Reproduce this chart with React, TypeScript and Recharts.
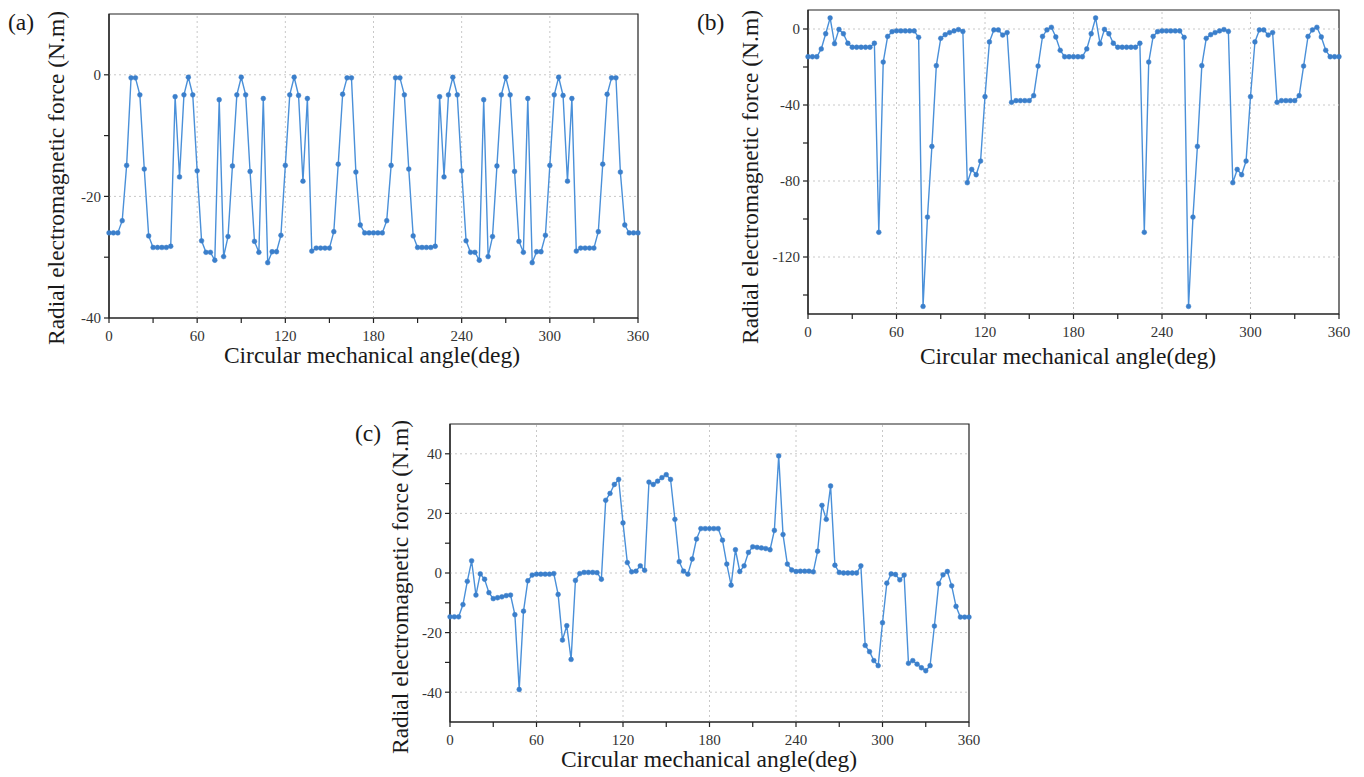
import React from "react";
import {
  LineChart,
  Line,
  XAxis,
  YAxis,
  ReferenceLine,
  ReferenceArea,
} from "recharts";

// sampling angles (deg), one point every 3 degrees
const angles = [
  0, 3, 6, 9, 12, 15, 18, 21, 24, 27, 30, 33, 36, 39, 42, 45, 48, 51, 54, 57,
  60, 63, 66, 69, 72, 75, 78, 81, 84, 87, 90, 93, 96, 99, 102, 105, 108, 111, 114, 117,
  120, 123, 126, 129, 132, 135, 138, 141, 144, 147, 150, 153, 156, 159, 162, 165, 168, 171, 174, 177,
  180, 183, 186, 189, 192, 195, 198, 201, 204, 207, 210, 213, 216, 219, 222, 225, 228, 231, 234, 237,
  240, 243, 246, 249, 252, 255, 258, 261, 264, 267, 270, 273, 276, 279, 282, 285, 288, 291, 294, 297,
  300, 303, 306, 309, 312, 315, 318, 321, 324, 327, 330, 333, 336, 339, 342, 345, 348, 351, 354, 357,
  360,
];

// (a) radial force, N.m
const forceA = [
  -26.0, -26.0, -26.0, -24.0, -14.9, -0.5, -0.5, -3.3, -15.5, -26.5,
  -28.4, -28.4, -28.4, -28.4, -28.2, -3.6, -16.8, -3.3, -0.4, -3.3,
  -15.8, -27.3, -29.2, -29.2, -30.5, -4.1, -29.9, -26.6, -15.0, -3.3,
  -0.4, -3.3, -15.9, -27.4, -29.2, -3.9, -30.9, -29.1, -29.1, -26.4,
  -14.9, -3.3, -0.4, -3.4, -17.5, -3.9, -29.0, -28.5, -28.5, -28.5,
  -28.5, -25.8, -14.7, -3.2, -0.5, -0.5, -16.0, -24.7, -26.0, -26.0,
  -26.0, -26.0, -26.0, -24.0, -14.9, -0.5, -0.5, -3.3, -15.5, -26.5,
  -28.4, -28.4, -28.4, -28.4, -28.2, -3.6, -16.8, -3.3, -0.4, -3.3,
  -15.8, -27.3, -29.2, -29.2, -30.5, -4.1, -29.9, -26.6, -15.0, -3.3,
  -0.4, -3.3, -15.9, -27.4, -29.2, -3.9, -30.9, -29.1, -29.1, -26.4,
  -14.9, -3.3, -0.4, -3.4, -17.5, -3.9, -29.0, -28.5, -28.5, -28.5,
  -28.5, -25.8, -14.7, -3.2, -0.5, -0.5, -16.0, -24.7, -26.0, -26.0,
  -26.0,
];

// (b)
const forceB = [
  -14.6, -14.6, -14.6, -10.5, -2.5, 5.8, -7.7, -0.2, -2.5, -7.5,
  -9.6, -9.6, -9.6, -9.6, -9.6, -7.5, -107, -17.4, -3.9, -1.4,
  -1.0, -1.0, -1.0, -1.0, -1.0, -4.4, -146, -99, -61.8, -19.3,
  -4.9, -3.0, -1.9, -1.0, -0.3, -1.3, -80.9, -73.9, -76.7, -69.5,
  -35.6, -6.8, -0.5, -0.5, -3.2, -1.9, -38.6, -37.7, -37.7, -37.7,
  -37.7, -35.1, -19.5, -3.9, -0.5, 0.9, -4.2, -11.2, -14.6, -14.6,
  -14.6, -14.6, -14.6, -10.5, -2.5, 5.8, -7.7, -0.2, -2.5, -7.5,
  -9.6, -9.6, -9.6, -9.6, -9.6, -7.5, -107, -17.4, -3.9, -1.4,
  -1.0, -1.0, -1.0, -1.0, -1.0, -4.4, -146, -99, -61.8, -19.3,
  -4.9, -3.0, -1.9, -1.0, -0.3, -1.3, -80.9, -73.9, -76.7, -69.5,
  -35.6, -6.8, -0.5, -0.5, -3.2, -1.9, -38.6, -37.7, -37.7, -37.7,
  -37.7, -35.1, -19.5, -3.9, -0.5, 0.9, -4.2, -11.2, -14.6, -14.6,
  -14.6,
];

// (c)
const forceC = [
  -14.7, -14.7, -14.7, -10.6, -2.8, 4.1, -7.4, -0.3, -2.1, -6.6,
  -8.6, -8.3, -8.0, -7.6, -7.4, -14.0, -39.1, -12.8, -2.6, -0.7,
  -0.4, -0.4, -0.4, -0.4, -0.2, -7.2, -22.5, -17.7, -29.0, -2.5,
  -0.2, 0.2, 0.2, 0.2, 0.1, -2.1, 24.4, 26.7, 29.7, 31.4,
  16.8, 3.5, 0.4, 0.6, 2.4, 0.9, 30.5, 29.7, 30.8, 32.0,
  33.0, 31.4, 18.0, 3.8, 0.6, -0.4, 4.7, 11.4, 14.9, 14.9,
  14.9, 14.9, 14.9, 11.0, 3.0, -4.1, 7.8, 0.5, 2.4, 6.9,
  8.8, 8.6, 8.4, 8.2, 7.8, 14.3, 39.3, 12.9, 3.0, 1.0,
  0.5, 0.6, 0.6, 0.6, 0.4, 7.3, 22.7, 18.0, 29.2, 2.6,
  0.2, 0.0, 0.0, 0.0, 0.0, 2.4, -24.3, -26.4, -29.4, -31.1,
  -16.7, -3.4, -0.3, -0.5, -2.3, -0.7, -30.3, -29.4, -30.6, -31.8,
  -32.8, -31.1, -17.8, -3.6, -0.6, 0.5, -4.3, -11.2, -14.8, -14.8,
  -14.8,
];

const xTicks = [0, 30, 60, 90, 120, 150, 180, 210, 240, 270, 300, 330, 360];
const xGrid = [60, 120, 180, 240, 300];

const yTicksA = [-40, -30, -20, -10, 0];
const yGridA = [-20, 0];
const yTicksB = [-140, -120, -100, -80, -60, -40, -20, 0];
const yGridB = [-120, -80, -40, 0];
const yTicksC = [-40, -30, -20, -10, 0, 10, 20, 30, 40];
const yGridC = [-40, -20, 0, 20, 40];

const FONT = "'Liberation Serif', 'Times New Roman', serif";
const tickStyle = { fill: "#333", fontSize: 15, fontFamily: FONT };
const axisStroke = { stroke: "#222", strokeWidth: 1.2 };

function Panel({ values, left, top, margin, yAxisWidth, xAxisHeight, domain, yTicks, yGrid, yStep }) {
  const data = angles.map((a, i) => ({ angle: a, force: values[i] }));
  return (
    <div style={{ position: "absolute", left, top }}>
      <LineChart width={660} height={345} data={data} margin={margin}>
        <ReferenceArea
          x1={0}
          x2={360}
          y1={domain[0]}
          y2={domain[1]}
          fill="none"
          stroke="#222"
          strokeWidth={1.2}
        />
        {xGrid.map((v) => (
          <ReferenceLine key={"x" + v} x={v} stroke="#c8c8c8" strokeDasharray="2 3" />
        ))}
        {yGrid.map((v) => (
          <ReferenceLine key={"y" + v} y={v} stroke="#c8c8c8" strokeDasharray="2 3" />
        ))}
        <XAxis
          type="number"
          dataKey="angle"
          domain={[0, 360]}
          ticks={xTicks}
          interval={0}
          height={xAxisHeight}
          tick={tickStyle}
          tickFormatter={(v) => (v % 60 === 0 ? String(v) : "")}
          tickSize={5}
          tickMargin={7}
          axisLine={axisStroke}
          tickLine={axisStroke}
        />
        <YAxis
          type="number"
          domain={domain}
          ticks={yTicks}
          interval={0}
          width={yAxisWidth}
          tick={tickStyle}
          tickFormatter={(v) => (v % yStep === 0 ? String(v) : "")}
          tickSize={5}
          tickMargin={3}
          axisLine={axisStroke}
          tickLine={axisStroke}
        />
        <Line
          type="linear"
          dataKey="force"
          stroke="#4a90d9"
          strokeWidth={1.4}
          dot={{ r: 2.4, fill: "#3b7fcb", stroke: "#3b7fcb", strokeWidth: 0.5 }}
          isAnimationActive={false}
        />
      </LineChart>
    </div>
  );
}

const labelBase = {
  position: "absolute",
  fontFamily: FONT,
  fontSize: 23.5,
  color: "#1a1a1a",
  whiteSpace: "nowrap",
  lineHeight: 1,
};

function YTitle({ x, y }) {
  return (
    <div style={{ ...labelBase, left: x, top: y, transform: "translate(-50%, -50%) rotate(-90deg)" }}>
      Radial electromagnetic force (N.m)
    </div>
  );
}

function XTitle({ x, y }) {
  return (
    <div style={{ ...labelBase, left: x, top: y, transform: "translate(-50%, -50%)" }}>
      Circular mechanical angle(deg)
    </div>
  );
}

function Tag({ x, y, text }) {
  return <div style={{ ...labelBase, left: x, top: y, transform: "translateY(-50%)" }}>{text}</div>;
}

export default function App() {
  return (
    <div style={{ position: "absolute", left: 0, top: 0, width: 1364, height: 777, background: "#fff" }}>
      <Panel
        values={forceA}
        left={0}
        top={0}
        margin={{ top: 14, right: 22, bottom: 0, left: 0 }}
        yAxisWidth={109}
        xAxisHeight={27}
        domain={[-40, 10]}
        yTicks={yTicksA}
        yGrid={yGridA}
        yStep={20}
      />
      <Panel
        values={forceB}
        left={700}
        top={0}
        margin={{ top: 10, right: 21, bottom: 0, left: 0 }}
        yAxisWidth={108}
        xAxisHeight={31}
        domain={[-150, 10]}
        yTicks={yTicksB}
        yGrid={yGridB}
        yStep={40}
      />
      <Panel
        values={forceC}
        left={340}
        top={410}
        margin={{ top: 14, right: 31, bottom: 0, left: 0 }}
        yAxisWidth={110}
        xAxisHeight={33}
        domain={[-50, 50]}
        yTicks={yTicksC}
        yGrid={yGridC}
        yStep={20}
      />
      <Tag x={8} y={23} text="(a)" />
      <Tag x={697} y={23} text="(b)" />
      <Tag x={355} y={434} text="(c)" />
      <YTitle x={57} y={178} />
      <YTitle x={751} y={177} />
      <YTitle x={401} y={587} />
      <XTitle x={372} y={356} />
      <XTitle x={1068} y={357} />
      <XTitle x={709} y={760} />
    </div>
  );
}
